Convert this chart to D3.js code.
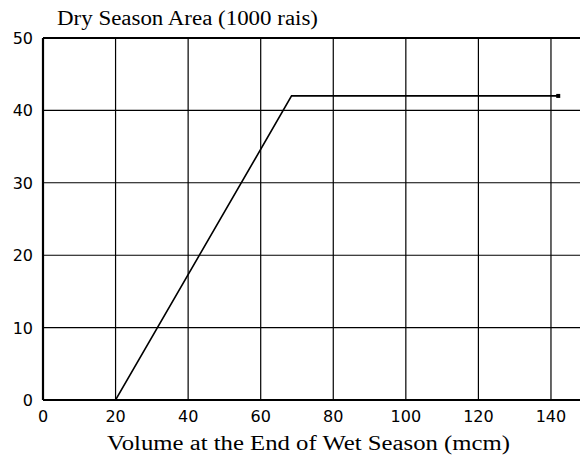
<script src="https://d3js.org/d3.v7.min.js"></script>
<style>
body { margin: 0; background: #fff; }
</style>
<div id="chart"></div>
<script>
// breakpoints of the curve (volume in mcm, area in 1000 rais)
var volume = [0, 20, 68.5, 142];
var area = [0, 0, 42, 42];
var xTicks = [0, 20, 40, 60, 80, 100, 120, 140];
var yTicks = [0, 10, 20, 30, 40, 50];

var width = 580, height = 459;

var svg = d3.select("#chart")
  .append("svg")
    .attr("width", width)
    .attr("height", height);

var x = d3.scaleLinear()
  .domain([0, 148])
  .range([43, 580]);

var y = d3.scaleLinear()
  .domain([0, 50])
  .range([400, 38]);

// grid
svg.append("g")
  .selectAll("line.v")
  .data(xTicks)
  .enter().append("line")
    .attr("x1", function(d) { return x(d); })
    .attr("x2", function(d) { return x(d); })
    .attr("y1", y(0))
    .attr("y2", y(50))
    .attr("stroke", "#000")
    .attr("stroke-width", function(d) { return d == 0 ? 2.2 : 1.2; });

svg.append("g")
  .selectAll("line.h")
  .data(yTicks)
  .enter().append("line")
    .attr("x1", x(0))
    .attr("x2", width)
    .attr("y1", function(d) { return y(d); })
    .attr("y2", function(d) { return y(d); })
    .attr("stroke", "#000")
    .attr("stroke-width", function(d) { return (d == 0 || d == 50) ? 2 : 1.1; });

// tick labels
svg.append("g")
  .selectAll("text")
  .data(xTicks)
  .enter().append("text")
    .attr("x", function(d) { return x(d); })
    .attr("y", y(0) + 22)
    .attr("text-anchor", "middle")
    .style("font-family", "'DejaVu Sans', sans-serif")
    .style("font-size", "16px")
    .text(function(d) { return d; });

svg.append("g")
  .selectAll("text")
  .data(yTicks)
  .enter().append("text")
    .attr("x", 33)
    .attr("y", function(d) { return y(d) + 6; })
    .attr("text-anchor", "end")
    .style("font-family", "'DejaVu Sans', sans-serif")
    .style("font-size", "16px")
    .text(function(d) { return d; });

// titles
svg.append("text")
  .attr("x", 57)
  .attr("y", 25)
  .attr("textLength", 261)
  .attr("lengthAdjust", "spacingAndGlyphs")
  .style("font-family", "'Liberation Serif', serif")
  .style("font-size", "20px")
  .text("Dry Season Area (1000 rais)");

svg.append("text")
  .attr("x", 107)
  .attr("y", 450)
  .attr("textLength", 403)
  .attr("lengthAdjust", "spacingAndGlyphs")
  .style("font-family", "'Liberation Serif', serif")
  .style("font-size", "20px")
  .text("Volume at the End of Wet Season (mcm)");

// curve
svg.append("path")
  .datum(volume)
  .attr("fill", "none")
  .attr("stroke", "#000")
  .attr("stroke-width", 1.6)
  .attr("d", d3.line()
    .x(function(d) { return x(d); })
    .y(function(d, i) { return y(area[i]); })
  );

svg.append("rect")
  .attr("x", x(volume[3]) - 2)
  .attr("y", y(area[3]) - 2)
  .attr("width", 4)
  .attr("height", 4)
  .attr("fill", "#000");
</script>
